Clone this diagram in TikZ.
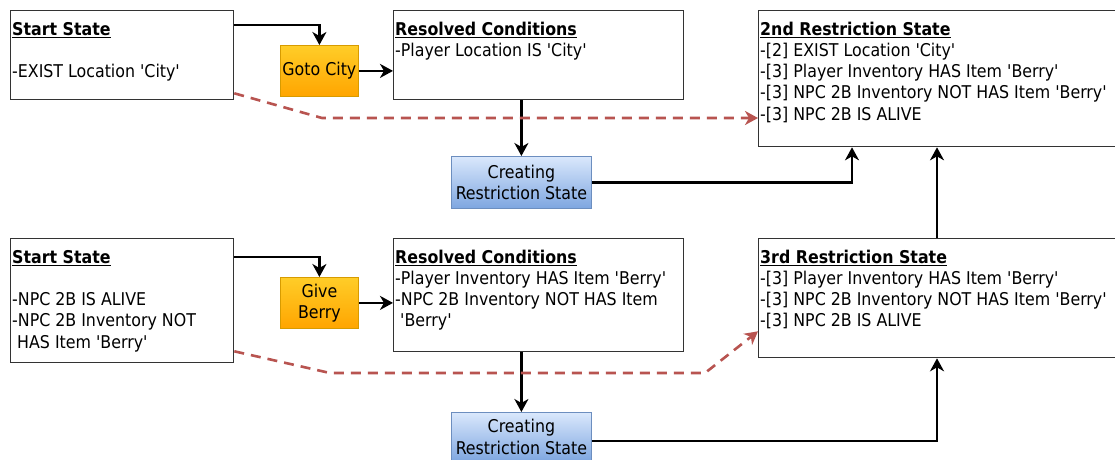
\documentclass[tikz,border=0pt]{standalone}
\usepackage{fontspec}
\newfontfamily\dfont{DejaVu Sans Condensed}
\usetikzlibrary{arrows.meta,calc}

\definecolor{boxline}{HTML}{333333}
\definecolor{orgtop}{HTML}{FFCD28}
\definecolor{orgbot}{HTML}{FFA500}
\definecolor{orgline}{HTML}{D79B00}
\definecolor{blutop}{HTML}{DAE8FC}
\definecolor{blubot}{HTML}{7EA6E0}
\definecolor{bluline}{HTML}{6C8EBF}
\definecolor{redline}{HTML}{B85450}

\tikzset{
  statebox/.style={draw=boxline, line width=1.3pt, fill=white, rectangle,
    anchor=north west, inner sep=0pt},
  txt/.style={anchor=north west, inner sep=0pt, align=left,
    font=\dfont\fontsize{17.6}{21.25}\selectfont},
  action/.style={draw=orgline, line width=0.8pt, top color=orgtop, bottom color=orgbot,
    rectangle, anchor=north west, inner sep=0pt, align=center,
    font=\dfont\fontsize{17.6}{21.25}\selectfont},
  creator/.style={draw=bluline, line width=0.8pt, top color=blutop, bottom color=blubot,
    rectangle, anchor=north west, inner sep=0pt, align=center,
    font=\dfont\fontsize{17.6}{21.25}\selectfont},
  arr/.style={draw=black, line width=2.8pt,
    -{Stealth[length=13pt,width=14pt,inset=4pt]}},
  hint/.style={draw=redline, line width=2.6pt, dash pattern=on 10pt off 7pt,
    -{Stealth[length=13pt,width=14pt,inset=4pt]}},
}
\newcommand{\ttl}[1]{\rule{0pt}{14pt}\textbf{\underline{#1}}}

\begin{document}
\begin{tikzpicture}[x=1pt,y=-1pt]
\path[use as bounding box, clip] (0,0) rectangle (1115,459);
\fill[white] (0,0) rectangle (1115,459);

% upper row
\node[statebox, minimum width=223pt, minimum height=89pt] (s1) at (10,10) {};
\node[txt] (s1t) at (12,21) {\ttl{Start State}\\ \\-EXIST Location 'City'};

\node[action, minimum width=78pt, minimum height=51pt] (g1) at (280,45) {Goto City};

\node[statebox, minimum width=290pt, minimum height=89pt] (r1) at (393,10) {};
\node[txt] (r1t) at (395,21) {\ttl{Resolved Conditions}\\-Player Location IS 'City'};

\node[creator, minimum width=140pt, minimum height=52pt] (c1) at (451,156) {Creating\\Restriction State};

\node[statebox, minimum width=367pt, minimum height=136pt] (q2) at (758,10) {};
\node[txt] (q2t) at (760,21) {\ttl{2nd Restriction State}\\-[2] EXIST Location 'City'\\-[3] Player Inventory HAS Item 'Berry'\\-[3] NPC 2B Inventory NOT HAS Item 'Berry'\\-[3] NPC 2B IS ALIVE};

% lower row
\node[statebox, minimum width=223pt, minimum height=124pt] (s2) at (10,238) {};
\node[txt] (s2t) at (12,249) {\ttl{Start State}\\ \\-NPC 2B IS ALIVE\\-NPC 2B Inventory NOT\\ \ HAS Item 'Berry'};

\node[action, minimum width=78pt, minimum height=51pt] (g2) at (280,277) {Give\\Berry};

\node[statebox, minimum width=290pt, minimum height=113pt] (r2) at (393,238) {};
\node[txt] (r2t) at (395,249) {\ttl{Resolved Conditions}\\-Player Inventory HAS Item 'Berry'\\-NPC 2B Inventory NOT HAS Item\\ \ 'Berry'};

\node[creator, minimum width=140pt, minimum height=49pt] (c2) at (451,412) {Creating\\Restriction State};

\node[statebox, minimum width=367pt, minimum height=119pt] (q3) at (758,238) {};
\node[txt] (q3t) at (760,249) {\ttl{3rd Restriction State}\\-[3] Player Inventory HAS Item 'Berry'\\-[3] NPC 2B Inventory NOT HAS Item 'Berry'\\-[3] NPC 2B IS ALIVE};

% flow of the upper row
\draw[arr] ([yshift=-15pt]s1.north east) -| (g1.north);
\draw[arr] (g1.east) -- (g1.east -| r1.west);
\draw[arr] (c1.north |- r1.south) -- (c1.north);
\draw[arr] (c1.east) -| ([xshift=94pt]q2.south west);

% flow of the lower row
\draw[arr] ([yshift=-19pt]s2.north east) -| (g2.north);
\draw[arr] (g2.east) -- (g2.east -| r2.west);
\draw[arr] (c2.north |- r2.south) -- (c2.north);
\draw[arr] ([yshift=-4pt]c2.east) -| ([xshift=179pt]q3.south west);
\draw[arr] ([xshift=179pt]q3.north west) -- ([xshift=179pt]q2.south west);

% implied restrictions
\coordinate (d1) at (322,118);
\draw[hint] ([yshift=7pt]s1.south east) -- (d1) -- (d1 -| q2.west);
\coordinate (d2a) at (330,373);
\coordinate (d2b) at (705,373);
\draw[hint] ([yshift=12pt]s2.south east) -- (d2a) -- (d2b) -- ([yshift=27pt]q3.south west);
\end{tikzpicture}
\end{document}
